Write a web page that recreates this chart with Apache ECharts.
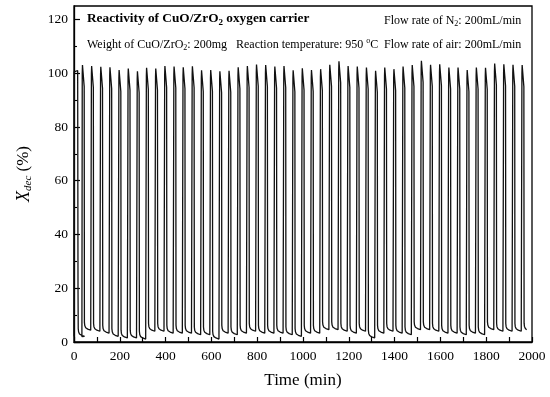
<!DOCTYPE html>
<html>
<head>
<meta charset="utf-8">
<script src="https://cdn.jsdelivr.net/npm/echarts@6/dist/echarts.min.js"></script>
<style>
html,body{margin:0;padding:0;background:#fff;}
#c{width:550px;height:397px;}
</style>
</head>
<body>
<div id="c"></div>
<script>
// ---- data ----
const xTickLabels = [0, 200, 400, 600, 800, 1000, 1200, 1400, 1600, 1800, 2000];
const yTickLabels = [0, 20, 40, 60, 80, 100, 120];

// initial reduction segment at the start of the run (min, %)
const startTimes = [0, 1, 16, 17.5];
const startValues = [2, 100.5, 101, 20];

// centre time of each reduction spike (min)
const peakTimes = [40, 80, 120, 160, 200, 240, 280, 320, 360, 400,
  440, 480, 520, 560, 600, 640, 680, 720, 760, 800,
  840, 880, 920, 960, 1000, 1040, 1080, 1120, 1160, 1200,
  1240, 1280, 1320, 1360, 1400, 1440, 1480, 1520, 1560, 1600,
  1640, 1680, 1720, 1760, 1800, 1840, 1880, 1920, 1960];

// maximum X_dec of each spike (%)
const peakValues = [103.0, 102.7, 102.4, 102.2, 101.2, 101.7, 100.7, 102.0, 101.7, 102.7,
  102.5, 102.2, 102.6, 101.1, 101.2, 100.7, 100.9, 102.2, 102.7, 103.2,
  103.0, 102.5, 102.7, 101.1, 101.8, 101.2, 101.5, 103.1, 104.4, 102.7,
  102.5, 102.1, 100.9, 102.1, 101.5, 102.5, 103.0, 104.6, 103.1, 103.3,
  102.1, 102.1, 101.2, 102.1, 102.0, 103.6, 103.3, 103.1, 103.0];

// lowest X_dec of the oxidation valley before each spike, plus the final valley (%)
const valleyValues = [2.0, 4.3, 3.9, 3.2, 2.0, 1.4, 1.4, 1.0, 3.9, 3.9,
  3.2, 3.2, 3.2, 2.6, 2.6, 1.0, 3.2, 2.6, 3.2, 3.9,
  3.2, 3.2, 3.2, 2.6, 2.0, 3.2, 3.2, 4.5, 4.5, 3.9,
  3.2, 3.9, 1.4, 3.2, 3.9, 3.2, 2.6, 4.5, 4.5, 3.9,
  3.2, 3.2, 2.6, 3.2, 2.6, 4.5, 3.9, 3.9, 3.9, 4.0];

// ---- build the series ----
const series = [];
for (let i = 0; i < startTimes.length; i++) series.push([startTimes[i], startValues[i]]);
function valleyAfter(t, low, last) {
  series.push([t + 1, low + 3]);
  series.push([t + 2.5, low + 1.8]);
  series.push([t + 6.5, low + 1.0]);
  if (last) { series.push([t + 12, low + 0.6]); return; }
  series.push([t + 15.5, low + 0.5]);
  series.push([t + 28.5, low + 0.1]);
}
valleyAfter(17.5, valleyValues[0], false);
for (let k = 0; k < peakTimes.length; k++) {
  const tc = peakTimes[k], p = peakValues[k];
  series.push([tc - 5.5, valleyValues[k]]);
  series.push([tc - 4, p - 3]);
  series.push([tc - 3, p]);
  series.push([tc + 3, p - 0.5]);
  series.push([tc + 4.5, p - 8]);
  valleyAfter(tc + 4.5, valleyValues[k + 1], k === peakTimes.length - 1);
}

const FONT = 'Liberation Serif';
const chart = echarts.init(document.getElementById('c'), null, {renderer: 'canvas'});
const sub = {fontFamily: FONT, fontSize: 8, lineHeight: 8, verticalAlign: 'bottom', color: '#000'};
chart.setOption({
  animation: false,
  backgroundColor: '#fff',
  textStyle: {fontFamily: FONT, color: '#000'},
  grid: {left: 74, right: 18, top: 6, bottom: 55, show: true, borderColor: '#000', borderWidth: 1.3, containLabel: false},
  title: [
    {left: 87, top: 11, padding: 0, text: 'Reactivity of CuO/ZrO{s|2} oxygen carrier',
      textStyle: {fontFamily: FONT, fontSize: 13.3, fontWeight: 'bold', color: '#000', lineHeight: 16,
        rich: {s: Object.assign({}, sub, {fontWeight: 'bold', fontSize: 9, lineHeight: 9})}}},
    {left: 87, top: 37, padding: 0, text: 'Weight of CuO/ZrO{s|2}: 200mg   Reaction temperature: 950 {u|o}C',
      textStyle: {fontFamily: FONT, fontSize: 12, fontWeight: 'normal', color: '#000', lineHeight: 15,
        rich: {s: sub, u: {fontFamily: FONT, fontSize: 8, lineHeight: 8, verticalAlign: 'top', color: '#000'}}}},
    {left: 384, top: 13, padding: 0, text: 'Flow rate of N{s|2}: 200mL/min',
      textStyle: {fontFamily: FONT, fontSize: 12, fontWeight: 'normal', color: '#000', lineHeight: 15, rich: {s: sub}}},
    {left: 384, top: 37, padding: 0, text: 'Flow rate of air: 200mL/min',
      textStyle: {fontFamily: FONT, fontSize: 12, fontWeight: 'normal', color: '#000', lineHeight: 15}}
  ],
  xAxis: {
    type: 'value', min: 0, max: 2000, interval: 100,
    name: 'Time (min)', nameLocation: 'middle', nameGap: 30,
    nameTextStyle: {fontFamily: FONT, fontSize: 17, color: '#000'},
    axisLine: {lineStyle: {color: '#000', width: 1.3}},
    axisTick: {inside: true, length: 5, lineStyle: {color: '#000', width: 1.2}},
    axisLabel: {fontFamily: FONT, fontSize: 13.5, color: '#000', margin: 7, customValues: xTickLabels,
      formatter: function (v) { return String(v); }},
    splitLine: {show: false}
  },
  yAxis: [{
    type: 'value', min: 0, max: 125, interval: 20,
    name: '{x|X}{d|dec} (%)', nameLocation: 'middle', nameGap: 40, nameRotate: 90,
    nameTextStyle: {fontFamily: FONT, fontSize: 17, color: '#000', lineHeight: 20,
      rich: {x: {fontFamily: FONT, fontSize: 18, fontStyle: 'italic', color: '#000', lineHeight: 20},
             d: {fontFamily: FONT, fontSize: 11, fontStyle: 'italic', color: '#000', lineHeight: 11, verticalAlign: 'bottom'}}},
    axisLine: {lineStyle: {color: '#000', width: 1.3}},
    axisTick: {inside: true, length: 6, lineStyle: {color: '#000', width: 1.2}, customValues: yTickLabels},
    axisLabel: {fontFamily: FONT, fontSize: 13.5, color: '#000', margin: 6, customValues: yTickLabels,
      formatter: function (v) { return String(v); }},
    splitLine: {show: false}
  }, {
    type: 'value', min: 0, max: 125, position: 'left',
    axisLine: {show: false},
    axisTick: {inside: true, length: 3, lineStyle: {color: '#000', width: 1.1}, customValues: [10, 30, 50, 70, 90, 110]},
    axisLabel: {show: false},
    splitLine: {show: false}
  }],
  series: [{
    type: 'line', data: series, showSymbol: false, symbol: 'none',
    lineStyle: {color: '#111', width: 1.3}, silent: true
  }]
});
</script>
</body>
</html>
